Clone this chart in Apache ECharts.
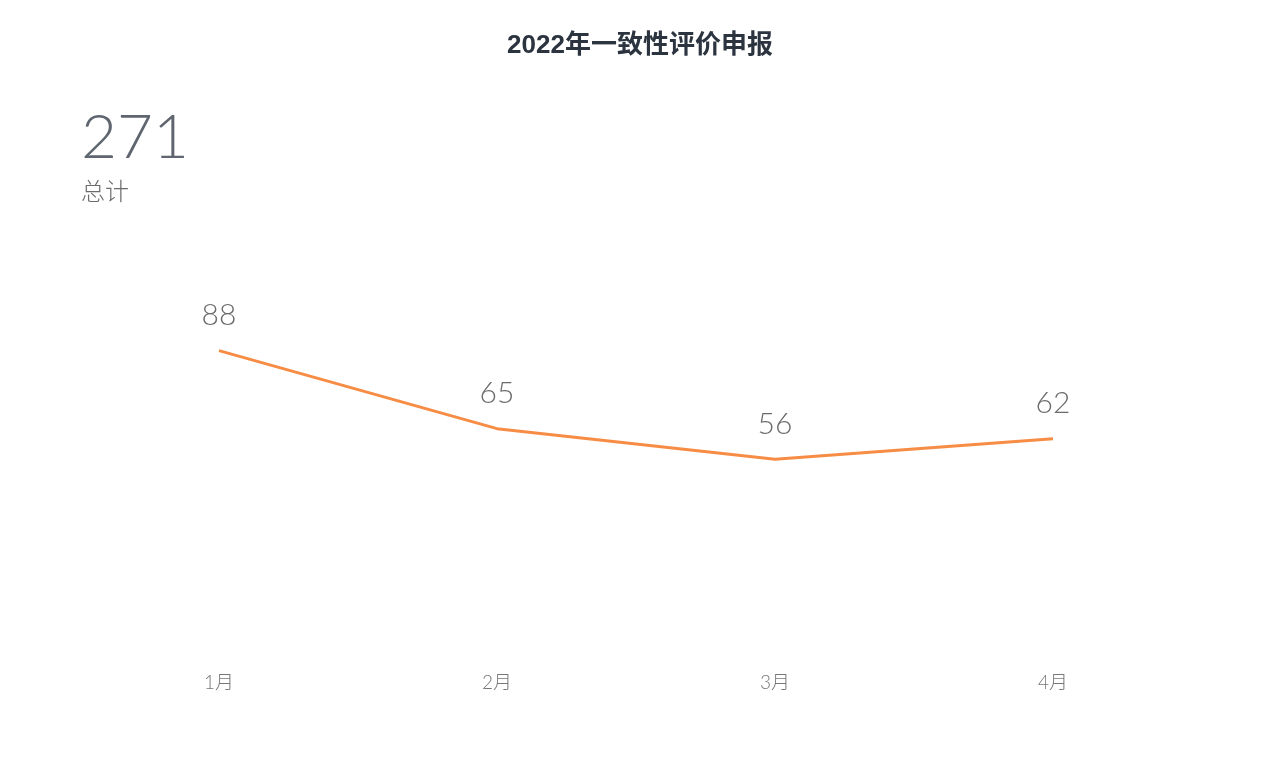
<!DOCTYPE html>
<html><head><meta charset="utf-8">
<script src="https://cdn.jsdelivr.net/npm/echarts@6/dist/echarts.min.js"></script>
<style>html,body{margin:0;padding:0;background:#fff}#c{width:1280px;height:767px}</style>
</head><body><div id="c"></div>
<script>
const title = "2022年一致性评价申报";
const totalValue = "271";
const totalLabel = "总计";
const categories = ["1月","2月","3月","4月"];
const values = [88,65,56,62];

const chart = echarts.init(document.getElementById('c'));
chart.setOption({
  backgroundColor:'#fff',
  title:[
    {text:title,left:'center',top:28,textStyle:{fontSize:26,fontWeight:'bold',color:'#2c3440',fontFamily:'Liberation Sans, Noto Sans CJK SC'}},
    {text:totalValue,subtext:totalLabel,left:76,top:102,itemGap:10,
     textStyle:{fontSize:62,fontWeight:300,color:'#5f6670',fontFamily:'Lato'},
     subtextStyle:{fontSize:24,color:'#6b6b6b',fontFamily:'Noto Sans CJK SC',fontWeight:300}}
  ],
  grid:{left:80,right:88,top:310,bottom:118},
  xAxis:{type:'category',data:categories,boundaryGap:true,
    axisLine:{show:false},axisTick:{show:false},
    axisLabel:{margin:24,fontSize:19,color:'#777',fontFamily:'Lato, Noto Sans CJK SC',fontWeight:300}},
  yAxis:{type:'value',min:0,max:100,show:false,splitLine:{show:false}},
  series:[{type:'line',data:values,symbol:'circle',symbolSize:0.1,
    lineStyle:{color:'#f78c45',width:3},itemStyle:{color:'#f78c45'},
    label:{show:true,position:'top',distance:20,fontSize:30,color:'#6b6b6b',fontFamily:'Lato',fontWeight:300}}]
});
</script></body></html>
